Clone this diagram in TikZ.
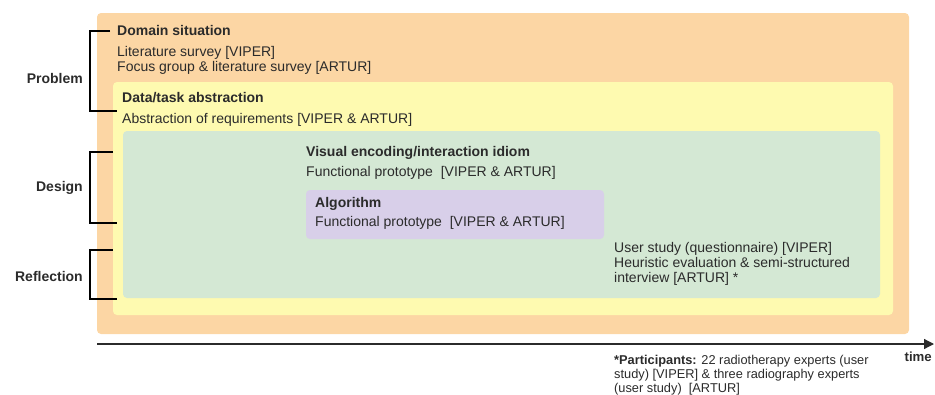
\documentclass[tikz,border=0pt]{standalone}
\usepackage{fontspec}
\setmainfont{Liberation Sans}
\usetikzlibrary{arrows.meta}
\definecolor{corange}{HTML}{FCD6A4}
\definecolor{cyellow}{HTML}{FEFAB0}
\definecolor{cgreen}{HTML}{D4E8D4}
\definecolor{cpurple}{HTML}{D8CFE9}
\definecolor{ctext}{HTML}{2B2B2B}
\begin{document}
\begin{tikzpicture}[x=1pt,y=-1pt,
  panel/.style={rounded corners=4pt, draw=none},
  txt/.style={anchor=base west, inner sep=0pt, text=ctext, font=\fontsize{14}{15}\selectfont, align=left},
  head/.style={txt, font=\fontsize{14}{15}\selectfont\bfseries},
  lab/.style={anchor=east, inner sep=0pt, text=ctext, font=\fontsize{14}{15}\selectfont\bfseries},
  brk/.style={draw=black, line width=1.1pt},
  foot/.style={anchor=base west, inner sep=0pt, text=ctext, font=\fontsize{12.8}{14}\selectfont, align=left}]
\useasboundingbox (0,0) rectangle (935,394);
% panels
\fill[panel, corange] (97,13) rectangle (909,334);
\fill[panel, cyellow] (113,82) rectangle (893,315);
\fill[panel, cgreen] (123,131) rectangle (880,298);
\fill[panel, cpurple] (306,190) rectangle (604,239);
% texts (multi-line nodes: base = last line)
\node[head] (dom) at (117,35.5) {Domain situation};
\node[txt] (domt) at (117,71.5) {Literature survey [VIPER]\\Focus group \& literature survey [ARTUR]};
\node[head] (dat) at (122,102.5) {Data/task abstraction};
\node[txt] (datt) at (122,123.5) {Abstraction of requirements [VIPER \& ARTUR]};
\node[head] (vis) at (306,156.5) {Visual encoding/interaction idiom};
\node[txt] (vist) at (306,176.5) {Functional prototype\ \ [VIPER \& ARTUR]};
\node[head] (alg) at (315,207.5) {Algorithm};
\node[txt] (algt) at (315,226.5) {Functional prototype\ \ [VIPER \& ARTUR]};
\node[txt] (user) at (614,282.5) {User study (questionnaire) [VIPER]\\Heuristic evaluation \& semi-structured\\interview [ARTUR] *};
% labels
\node[lab] (prob) at (83,78) {Problem};
\node[lab] (des) at (83,188) {Design};
\node[lab] (refl) at (83,276) {Reflection};
% brackets
\coordinate (p1) at (110,31); \coordinate (p2) at (117,111);
\coordinate (d1) at (113,152); \coordinate (d2) at (117,223);
\coordinate (r1) at (113,250); \coordinate (r2) at (117,299);
\draw[brk] (p1) -| (90,111) -- (p2);
\draw[brk] (d1) -| (90,223) -- (d2);
\draw[brk] (r1) -| (90,299) -- (r2);
% axis
\coordinate (a0) at (97,344);
\coordinate (a1) at (934,344);
\draw[line width=1.2pt, draw=ctext, -{Triangle[length=10pt,width=10pt]}] (a0) -- (a1);
\node[anchor=base east, inner sep=0pt, text=ctext, font=\fontsize{13.2}{14}\selectfont\bfseries] (time) at (932,361.5) {time};
\node[foot] (part) at (614,392) {\textbf{*Participants:} 22 radiotherapy experts (user\\study) [VIPER] \& three radiography experts\\(user study)\ \ [ARTUR]};
\end{tikzpicture}
\end{document}
